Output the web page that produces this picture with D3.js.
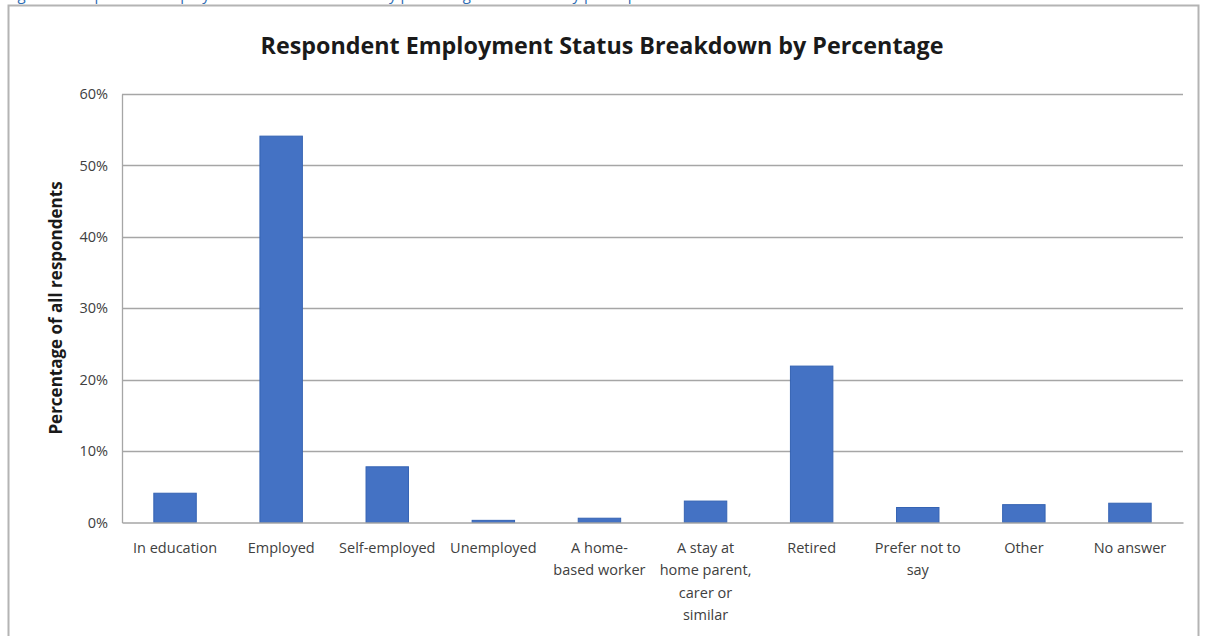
<!DOCTYPE html>
<html><head><meta charset="utf-8">
<script src="https://cdn.jsdelivr.net/npm/d3@7"></script>
<style>html,body{margin:0;padding:0;background:#fff;overflow:hidden}</style>
</head><body>
<script>
const categories = ["In education","Employed","Self-employed","Unemployed","A home-based worker","A stay at home parent, carer or similar","Retired","Prefer not to say","Other","No answer"];
const labelLines = [["In education"],["Employed"],["Self-employed"],["Unemployed"],["A home-","based worker"],["A stay at","home parent,","carer or","similar"],["Retired"],["Prefer not to","say"],["Other"],["No answer"]];
const values = [4.1, 54.1, 7.8, 0.3, 0.6, 3.0, 21.9, 2.1, 2.5, 2.7];
const yTicks = [0,10,20,30,40,50,60];
const title = "Respondent Employment Status Breakdown by Percentage";
const yTitle = "Percentage of all respondents";
const caption = "Figure 9: Respondent employment status breakdown by percentage for the survey participants";

const W = 1207, H = 636;
const font = "'Open Sans', Lato, sans-serif";
const svg = d3.select("body").append("svg").attr("width", W).attr("height", H);

// caption (cut off at top, as in the reference)
svg.append("text").attr("x", 6).attr("y", 0).attr("fill", "#2e6db4")
  .attr("font-family", font).attr("font-size", 15).text(caption);

// outer frame
svg.append("rect").attr("x", 8.5).attr("y", 5.5).attr("width", 1190).attr("height", 640)
  .attr("fill", "#fff").attr("stroke", "#b4b4b4").attr("stroke-width", 2);

const plot = {left: 122, right: 1183, top: 94, bottom: 522.5};
const x = d3.scaleBand().domain(categories).range([plot.left, plot.right]).paddingInner(0.6).paddingOuter(0.3);
const y = d3.scaleLinear().domain([0, 60]).range([plot.bottom, plot.top]);

// gridlines
svg.append("g").selectAll("line").data(yTicks.filter(d => d > 0)).join("line")
  .attr("x1", plot.left).attr("x2", plot.right)
  .attr("y1", d => Math.round(y(d)) + 0.5).attr("y2", d => Math.round(y(d)) + 0.5)
  .attr("stroke", "#a6a6a6").attr("stroke-width", 1.3);

// y axis labels
const yAxis = d3.axisLeft(y).tickValues(yTicks).tickFormat(d => d + "%").tickSize(0).tickPadding(14);
const ya = svg.append("g").attr("transform", `translate(${plot.left},0)`).call(yAxis);
ya.select(".domain").attr("stroke", "#a6a6a6").attr("stroke-width", 1.3);
ya.selectAll("text").attr("font-family", font).attr("font-size", 14.5).attr("fill", "#404040");

// bars
svg.append("g").selectAll("rect").data(values).join("rect")
  .attr("x", (d, i) => x(categories[i])).attr("width", x.bandwidth())
  .attr("y", d => y(d)).attr("height", d => y(0) - y(d))
  .attr("fill", "#4472c4").attr("stroke", "#3563b3").attr("stroke-width", 1);

// x axis
const xa = svg.append("g").attr("transform", `translate(0,${plot.bottom})`)
  .call(d3.axisBottom(x).tickSize(0).tickFormat(""));
xa.select(".domain").attr("stroke", "#a6a6a6").attr("stroke-width", 1.3);
xa.selectAll(".tick").each(function(d, i) {
  const t = d3.select(this).append("text").attr("fill", "#404040")
    .attr("font-family", font).attr("font-size", 14.5).attr("text-anchor", "middle");
  labelLines[i].forEach((ln, k) => t.append("tspan").attr("x", 0).attr("y", 30 + k * 22.5).text(ln));
});

// title
svg.append("text").attr("x", 602).attr("y", 54).attr("text-anchor", "middle")
  .attr("font-family", font).attr("font-weight", "bold").attr("font-size", 23.3)
  .attr("fill", "#1a1a1a").text(title);

// y title
svg.append("text").attr("transform", "translate(62,308) rotate(-90)").attr("text-anchor", "middle")
  .attr("font-family", font).attr("font-weight", "bold").attr("font-size", 17)
  .attr("fill", "#1a1a1a").text(yTitle);
</script>
</body></html>
